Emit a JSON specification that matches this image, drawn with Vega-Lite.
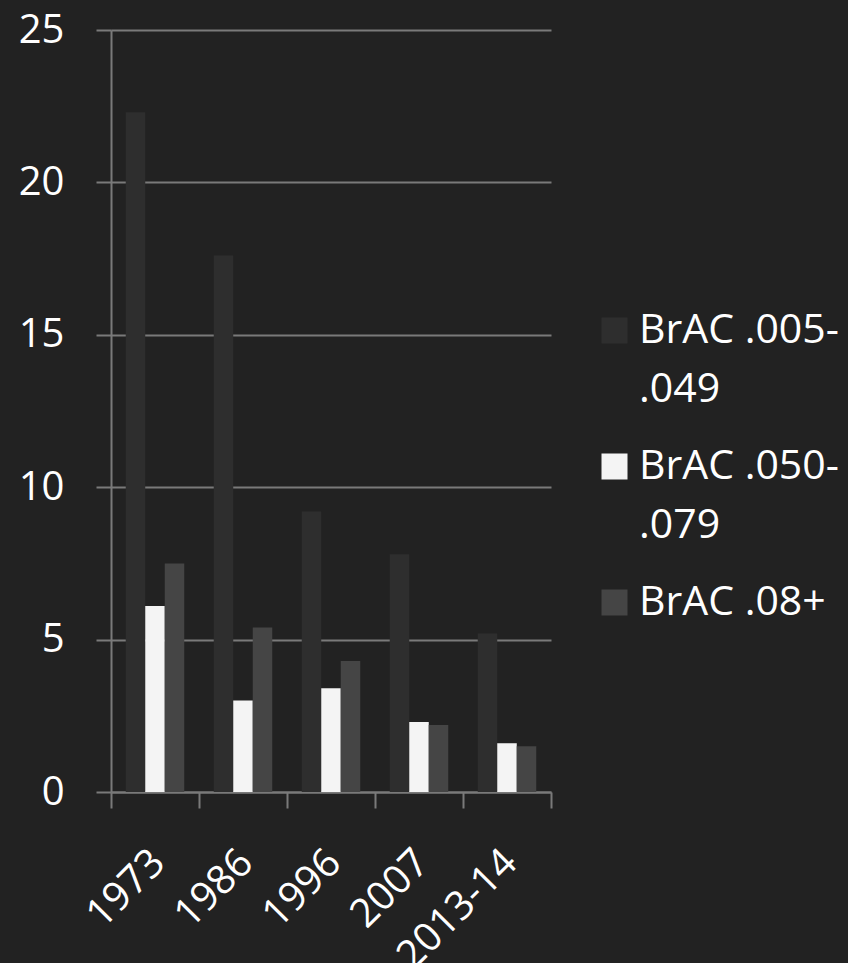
{
  "$schema": "https://vega.github.io/schema/vega-lite/v6.json",
  "width": 440,
  "height": 762,
  "autosize": "none",
  "padding": {"left": 111, "top": 30, "right": 297, "bottom": 171},
  "background": "#222222",
  "data": {
    "values": [
      {"year": "1973", "series": "BrAC .005-.049", "value": 22.3},
      {"year": "1973", "series": "BrAC .050-.079", "value": 6.1},
      {"year": "1973", "series": "BrAC .08+", "value": 7.5},
      {"year": "1986", "series": "BrAC .005-.049", "value": 17.6},
      {"year": "1986", "series": "BrAC .050-.079", "value": 3.0},
      {"year": "1986", "series": "BrAC .08+", "value": 5.4},
      {"year": "1996", "series": "BrAC .005-.049", "value": 9.2},
      {"year": "1996", "series": "BrAC .050-.079", "value": 3.4},
      {"year": "1996", "series": "BrAC .08+", "value": 4.3},
      {"year": "2007", "series": "BrAC .005-.049", "value": 7.8},
      {"year": "2007", "series": "BrAC .050-.079", "value": 2.3},
      {"year": "2007", "series": "BrAC .08+", "value": 2.2},
      {"year": "2013-14", "series": "BrAC .005-.049", "value": 5.2},
      {"year": "2013-14", "series": "BrAC .050-.079", "value": 1.6},
      {"year": "2013-14", "series": "BrAC .08+", "value": 1.5}
    ]
  },
  "mark": {"type": "bar"},
  "encoding": {
    "x": {
      "field": "year",
      "type": "nominal",
      "sort": ["1973", "1986", "1996", "2007", "2013-14"],
      "scale": {"paddingInner": 0, "paddingOuter": 0},
      "axis": {
        "title": null,
        "labelAngle": -45,
        "labelFont": "Open Sans",
        "labelFontSize": 40,
        "labelColor": "#ffffff",
        "tickBand": "extent",
        "tickSize": 16,
        "tickColor": "#7a7a7a",
        "tickWidth": 2,
        "domainColor": "#7a7a7a",
        "domainWidth": 2,
        "labelPadding": 34,
        "labelOffset": -11,
        "grid": false
      }
    },
    "xOffset": {
      "field": "series",
      "sort": ["BrAC .005-.049", "BrAC .050-.079", "BrAC .08+"],
      "scale": {"paddingInner": 0, "paddingOuter": 0.755}
    },
    "y": {
      "field": "value",
      "type": "quantitative",
      "scale": {"domain": [0, 25]},
      "axis": {
        "title": null,
        "values": [0, 5, 10, 15, 20, 25],
        "labelFont": "Open Sans",
        "labelFontSize": 40,
        "labelColor": "#ffffff",
        "labelPadding": 32,
        "tickSize": 15,
        "tickColor": "#7a7a7a",
        "tickWidth": 2,
        "domainColor": "#7a7a7a",
        "domainWidth": 2,
        "gridColor": "#7a7a7a",
        "gridWidth": 2
      }
    },
    "color": {
      "field": "series",
      "type": "nominal",
      "sort": ["BrAC .005-.049", "BrAC .050-.079", "BrAC .08+"],
      "scale": {
        "domain": ["BrAC .005-.049", "BrAC .050-.079", "BrAC .08+"],
        "range": ["#2e2e2e", "#f4f4f4", "#454545"]
      },
      "legend": {
        "title": null,
        "orient": "none",
        "legendX": 483,
        "legendY": 280,
        "symbolType": "square",
        "symbolSize": 676,
        "symbolStrokeWidth": 0,
        "labelFont": "Open Sans",
        "labelFontSize": 41,
        "labelColor": "#ffffff",
        "labelLimit": 300,
        "labelOffset": 4,
        "rowPadding": 35,
        "labelExpr": "datum.label === 'BrAC .08+' ? datum.label : [slice(datum.label, 0, 10), slice(datum.label, 10)]",
        "encode": {"labels": {"update": {"lineHeight": {"value": 59}}}}
      }
    }
  },
  "config": {"view": {"stroke": null}}
}
